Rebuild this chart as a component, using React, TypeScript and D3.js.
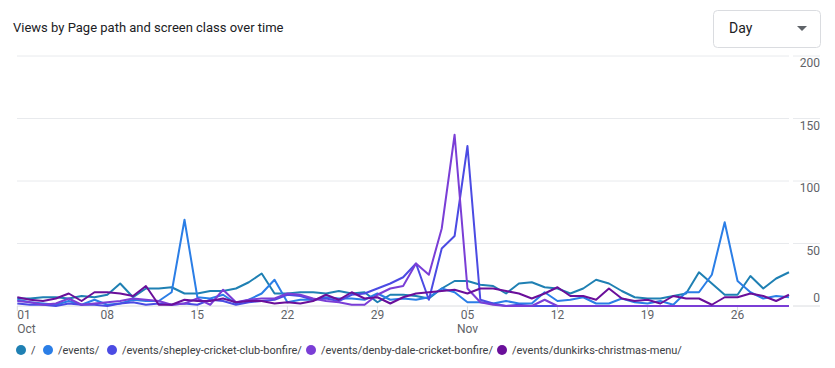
import * as d3 from 'd3';

// daily views, 1 Oct - 30 Nov
const startDate = new Date(2023, 9, 1);
const endDate = new Date(2023, 10, 30);

const seriesNames = [
  '/',
  '/events/',
  '/events/shepley-cricket-club-bonfire/',
  '/events/denby-dale-cricket-bonfire/',
  '/events/dunkirks-christmas-menu/',
];
const seriesColors = ['#1f80b3', '#2b7ee6', '#4b4be3', '#7a3ed6', '#6a0f9a'];

const rootViews = [6, 6, 7, 7, 6, 8, 7, 9, 18, 7, 14, 14, 15, 10, 10, 12, 12, 14, 19, 26, 10, 10, 11, 11, 10, 12, 10, 11, 3, 9, 9, 8, 6, 14, 20, 20, 17, 16, 10, 18, 19, 15, 14, 10, 14, 21, 18, 12, 7, 6, 6, 8, 10, 27, 18, 9, 9, 24, 14, 22, 27];
const eventsViews = [5, 3, 2, 1, 4, 1, 5, 1, 2, 5, 4, 4, 11, 69, 7, 6, 9, 2, 5, 10, 21, 3, 5, 5, 7, 6, 6, 5, 10, 5, 6, 5, 7, 14, 11, 3, 3, 2, 4, 2, 2, 11, 4, 5, 7, 2, 2, 6, 3, 2, 4, 1, 11, 11, 25, 67, 20, 11, 6, 8, 7];
const shepleyViews = [2, 1, 1, 0, 2, 1, 1, 0, 2, 3, 1, 2, 1, 2, 1, 5, 4, 1, 3, 4, 5, 9, 8, 5, 6, 4, 9, 10, 14, 18, 23, 34, 5, 46, 56, 128, 5, 2, 0, 1, 0, 0, 0, 0, 0, 0, 0, 0, 0, 0, 0, 0, 0, 0, 0, 0, 0, 0, 0, 0, 0];
const denbyViews = [4, 3, 1, 2, 6, 1, 2, 3, 4, 6, 5, 4, 1, 2, 6, 1, 13, 3, 5, 6, 6, 10, 9, 6, 4, 3, 1, 1, 9, 14, 16, 34, 25, 62, 137, 14, 3, 1, 0, 0, 0, 5, 0, 0, 0, 0, 0, 0, 0, 0, 0, 0, 0, 0, 0, 0, 0, 0, 0, 0, 0];
const dunkirksViews = [7, 5, 4, 6, 10, 4, 11, 11, 10, 8, 16, 1, 1, 5, 4, 4, 6, 3, 4, 4, 2, 3, 2, 4, 9, 5, 11, 6, 7, 2, 7, 10, 11, 12, 13, 10, 14, 14, 12, 10, 6, 10, 15, 8, 8, 5, 14, 6, 4, 5, 2, 8, 6, 6, 1, 7, 7, 10, 8, 4, 9];

const yTicks = [0, 50, 100, 150, 200];
const legendX = [21, 48, 112, 311, 502];

const W = 835;
const H = 368;

export default function App() {
  const seriesValues = [rootViews, eventsViews, shepleyViews, denbyViews, dunkirksViews];
  const days = d3.timeDay.range(startDate, d3.timeDay.offset(endDate, 1));

  const x = d3.scaleTime().domain([startDate, endDate]).range([17.3, 789]);
  const y = d3.scaleLinear().domain([0, 200]).range([306, 56]);

  const line = d3
    .line<number>()
    .x((_, i) => x(days[i]))
    .y((v) => y(v));

  // weekly ticks starting on the first day
  const xTicks = d3.timeDay.range(startDate, d3.timeDay.offset(endDate, 1), 7);
  const fmtDay = d3.timeFormat('%d');
  const fmtMonth = d3.timeFormat('%b');
  const seenMonths = new Set<number>();

  return (
    <svg width={W} height={H} style={{ position: 'absolute', left: 0, top: 0, fontFamily: 'Roboto, sans-serif' }}>
      <rect width={W} height={H} fill="#fff" />
      <text x={13} y={32} fontSize={13} fill="#202124">
        Views by Page path and screen class over time
      </text>

      {/* Day dropdown */}
      <rect x={713.5} y={10.5} width={107} height={37} rx={4} fill="#fff" stroke="#dadce0" />
      <text x={729} y={33} fontSize={14} fill="#202124">Day</text>
      <path d="M797,26 L807,26 L802,31 Z" fill="#5f6368" />

      {/* grid */}
      {yTicks.map((t) => (
        <g key={t}>
          <line x1={17} x2={789} y1={y(t)} y2={y(t)} stroke={t === 0 ? '#dadce0' : '#e8eaed'} />
          <line x1={793} x2={820} y1={y(t)} y2={y(t)} stroke={t === 0 ? '#dadce0' : '#e8eaed'} />
          <text x={820} y={t === 0 ? y(t) - 4 : y(t) + 11} fontSize={12} fill="#5f6368" textAnchor="end">
            {t}
          </text>
        </g>
      ))}

      {/* x ticks */}
      {xTicks.map((d, i) => {
        const m = d.getMonth();
        const showMonth = !seenMonths.has(m);
        seenMonths.add(m);
        const anchor = i === 0 ? 'start' : 'middle';
        const tx = x(d);
        return (
          <g key={+d}>
            <line x1={tx} x2={tx} y1={306} y2={311} stroke="#dadce0" />
            <text x={tx} y={319} fontSize={12} fill="#5f6368" textAnchor={anchor}>
              {fmtDay(d)}
            </text>
            {showMonth && (
              <text x={tx} y={333} fontSize={12} fill="#5f6368" textAnchor={anchor}>
                {fmtMonth(d)}
              </text>
            )}
          </g>
        );
      })}

      {/* lines */}
      {seriesValues.map((vals, i) => (
        <path
          key={seriesNames[i]}
          d={line(vals) ?? ''}
          fill="none"
          stroke={seriesColors[i]}
          strokeWidth={2}
          strokeLinejoin="round"
        />
      ))}

      {/* legend */}
      {seriesNames.map((name, i) => (
        <g key={name} transform={`translate(${legendX[i]},350)`}>
          <circle r={5} fill={seriesColors[i]} />
          <text x={10} y={4} fontSize={11} fill="#3c4043">
            {name}
          </text>
        </g>
      ))}
    </svg>
  );
}
